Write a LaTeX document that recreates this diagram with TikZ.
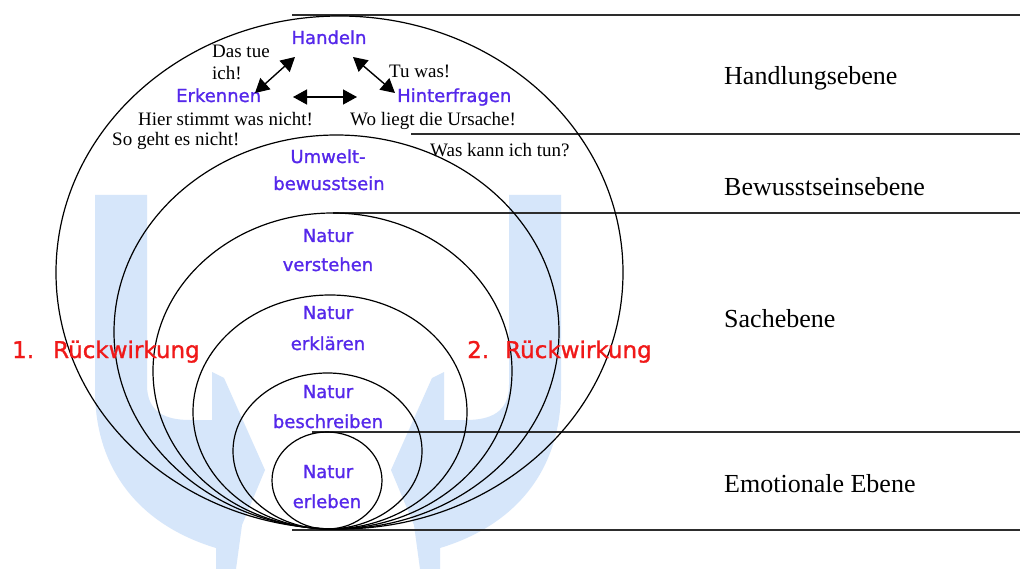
\documentclass[tikz,border=0pt]{standalone}
\usepackage{fontspec}
\setmainfont{Liberation Serif}
\newfontfamily\comicf[FakeBold=1.2]{DejaVu Sans}
\usetikzlibrary{arrows.meta}
\definecolor{lbl}{RGB}{85,40,235}
\definecolor{rred}{RGB}{240,25,25}
\definecolor{wm}{RGB}{214,230,250}
\definecolor{ln}{RGB}{45,45,45}
\begin{document}
\begin{tikzpicture}[x=1pt,y=-1pt,
  bluetxt/.style={text=lbl,font=\comicf\fontsize{18}{20}\selectfont,inner sep=0pt,anchor=base},
  smalltxt/.style={font=\fontsize{19}{21}\selectfont,inner sep=0pt,anchor=base west},
  leveltxt/.style={font=\fontsize{26}{28}\selectfont,inner sep=0pt,anchor=base west},
  redtxt/.style={text=rred,font=\comicf\fontsize{23}{25}\selectfont,inner sep=0pt,anchor=base west},
  ring/.style={draw=black,line width=1.2pt},
  hline/.style={draw=ln,line width=1.3pt},
  dbl/.style={line width=1.4pt,{Triangle[length=14pt,width=15pt]}-{Triangle[length=14pt,width=15pt]}},
]
\useasboundingbox (0,0) rectangle (1020,569);
\fill[white] (0,0) rectangle (1020,569);

% watermark
\fill[wm] (95,195) -- (147,195) -- (147,385) .. controls (147,412) and (165,420) .. (190,420) -- (212,420) -- (212,372) -- (224,378) -- (265,470) -- (242,525) -- (236,569) -- (216,569) -- (216,548) .. controls (140,525) and (95,470) .. (95,390) -- cycle;
\fill[wm] (561,195) -- (509,195) -- (509,385) .. controls (509,412) and (491,420) .. (466,420) -- (444,420) -- (444,372) -- (432,378) -- (391,470) -- (414,525) -- (420,569) -- (440,569) -- (440,548) .. controls (516,525) and (561,470) .. (561,390) -- cycle;

% level lines
\draw[hline] (292,15) -- (1020,15);
\draw[hline] (411,134) -- (1020,134);
\draw[hline] (333,213) -- (1020,213);
\draw[hline] (312,432) -- (1020,432);
\draw[hline] (292,530) -- (1020,530);

% nested rings
\draw[ring] (339.5,272.5) ellipse [x radius=283.5pt, y radius=256.5pt];
\draw[ring] (336.5,332) ellipse [x radius=222.5pt, y radius=197pt];
\draw[ring] (332.5,371) ellipse [x radius=179.5pt, y radius=158pt];
\draw[ring] (330,412) ellipse [x radius=137pt, y radius=117pt];
\draw[ring] (327.5,451) ellipse [x radius=94.5pt, y radius=78pt];
\draw[ring] (327,480.5) ellipse [x radius=55pt, y radius=48.5pt];

% level names
\node[leveltxt] (lv1) at (724,85) {Handlungsebene};
\node[leveltxt] (lv2) at (724,196) {Bewusstseinsebene};
\node[leveltxt] (lv3) at (724,327) {Sachebene};
\node[leveltxt] (lv4) at (724,492) {Emotionale Ebene};

% blue labels
\node[bluetxt] (han) at (329,44) {Handeln};
\node[bluetxt,anchor=base west] (erk) at (176,102) {Erkennen};
\node[bluetxt,anchor=base west] (hin) at (397,102) {Hinterfragen};
\node[bluetxt] (umw1) at (328,163) {Umwelt-};
\node[bluetxt] (umw2) at (329,190) {bewusstsein};
\node[bluetxt] (ver1) at (328,242) {Natur};
\node[bluetxt] (ver2) at (328,271) {verstehen};
\node[bluetxt] (erl1) at (328,319) {Natur};
\node[bluetxt] (erl2) at (328,350) {erklären};
\node[bluetxt] (bes1) at (328,398) {Natur};
\node[bluetxt] (bes2) at (328,428) {beschreiben};
\node[bluetxt] (erb1) at (328,478) {Natur};
\node[bluetxt] (erb2) at (327,508) {erleben};

% small black texts
\node[smalltxt] (t1) at (212,58) {Das tue};
\node[smalltxt] (t2) at (212,80) {ich!};
\node[smalltxt] (t3) at (138,126) {Hier stimmt was nicht!};
\node[smalltxt] (t4) at (112,146) {So geht es nicht!};
\node[smalltxt] (t5) at (389,78) {Tu was!};
\node[smalltxt] (t6) at (350,126) {Wo liegt die Ursache!};
\node[smalltxt] (t7) at (430,157) {Was kann ich tun?};

% red labels
\node[redtxt] (rw1) at (12,358) {\makebox[41pt][l]{1.}Rückwirkung};
\node[redtxt] (rw2) at (467,358) {\makebox[38pt][l]{2.}Rückwirkung};

% arrows
\coordinate (a1s) at (255,93);
\coordinate (a1e) at (295,57);
\coordinate (a2s) at (293,97);
\coordinate (a2e) at (357,97);
\coordinate (a3s) at (353,57);
\coordinate (a3e) at (395,93);
\draw[dbl] (a1s) -- (a1e);
\draw[dbl] (a2s) -- (a2e);
\draw[dbl] (a3s) -- (a3e);
\end{tikzpicture}
\end{document}
